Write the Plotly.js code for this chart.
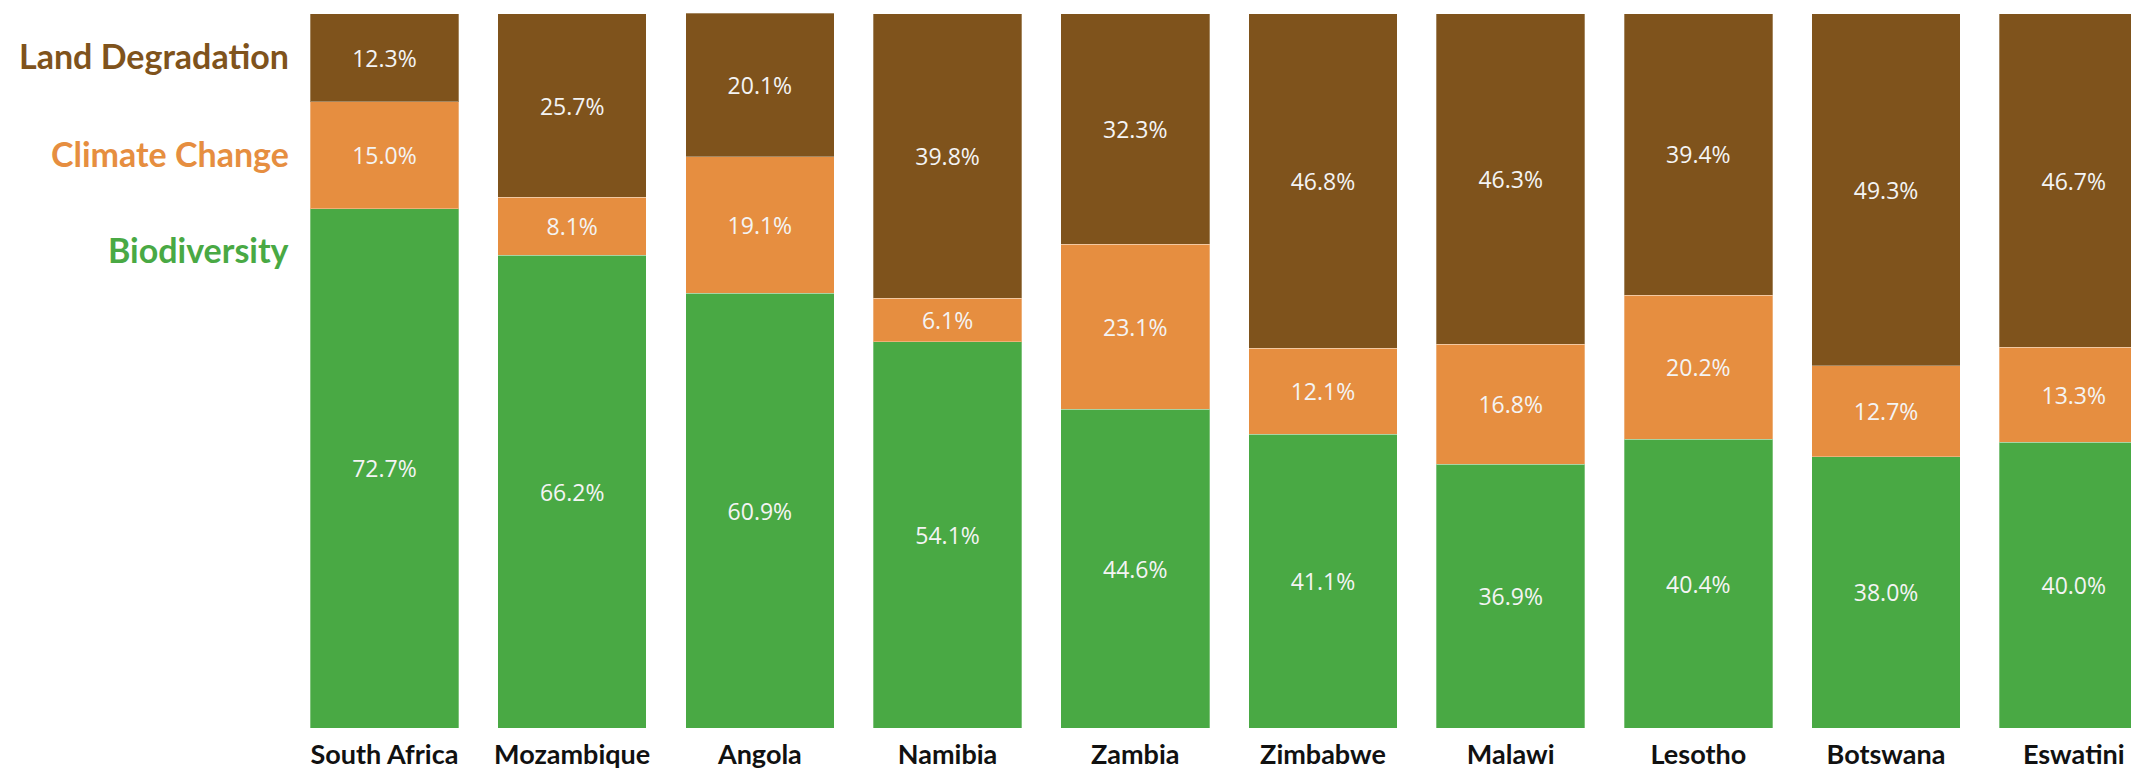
<!DOCTYPE html>
<html>
<head>
<meta charset="utf-8">
<script src="https://cdn.plot.ly/plotly-3.0.1.min.js"></script>
<style>html,body{margin:0;padding:0;background:#fff;}#chart{width:2131px;height:771px;}</style>
</head>
<body>
<div id="chart"></div>
<script>
const countries = ["South Africa","Mozambique","Angola","Namibia","Zambia","Zimbabwe","Malawi","Lesotho","Botswana","Eswatini"];
const biodiversity = [72.7, 66.2, 60.9, 54.1, 44.6, 41.1, 36.9, 40.4, 38.0, 40.0];
const climateChange = [15.0, 8.1, 19.1, 6.1, 23.1, 12.1, 16.8, 20.2, 12.7, 13.3];
const landDegradation = [12.3, 25.7, 20.1, 39.8, 32.3, 46.8, 46.3, 39.4, 49.3, 46.7];

const seriesNames = ["Biodiversity", "Climate Change", "Land Degradation"];
const seriesColors = ["#49A944", "#E68E40", "#7F531C"];
const seriesValues = [biodiversity, climateChange, landDegradation];

const traces = seriesValues.map((vals, i) => ({
  type: 'bar',
  name: seriesNames[i],
  x: countries,
  y: vals,
  marker: {color: seriesColors[i], line: {color: 'rgba(255,255,255,0.3)', width: 1}},
  texttemplate: '%{y:.1f}%',
  textposition: 'inside',
  insidetextanchor: 'middle',
  textangle: 0,
  textfont: {family: "'Open Sans', 'Noto Sans', sans-serif", size: 23, color: '#F4F4F4'},
  hoverinfo: 'skip'
}));

// left-side labels (series names), top to bottom
const labelOrder = [2, 1, 0];
const labelY = [0.9408, 0.8038, 0.6695];
const annotations = labelOrder.map((si, k) => ({
  xref: 'paper', yref: 'paper',
  x: 0, y: labelY[k], xshift: -9,
  xanchor: 'right', yanchor: 'middle',
  text: seriesNames[si],
  showarrow: false,
  font: {family: "Lato, 'Open Sans', sans-serif", size: 34, color: seriesColors[si], weight: 'bold'}
}));

const layout = {
  width: 2131, height: 771,
  margin: {l: 300, r: 0, t: 13, b: 43, pad: 0},
  barmode: 'stack',
  bargap: 0.208,
  showlegend: false,
  paper_bgcolor: '#ffffff',
  plot_bgcolor: '#ffffff',
  xaxis: {
    type: 'category',
    range: [-0.45, 9.305],
    showgrid: false, zeroline: false, showline: false,
    ticks: '',
    tickfont: {family: "Lato, 'Open Sans', sans-serif", size: 27, color: '#111111', weight: 'bold'},
    ticklabelstandoff: 8,
    fixedrange: true
  },
  yaxis: {
    range: [0, 100.1],
    visible: false,
    fixedrange: true
  },
  annotations: annotations
};

Plotly.newPlot('chart', traces, layout, {displayModeBar: false, staticPlot: true});
</script>
</body>
</html>
